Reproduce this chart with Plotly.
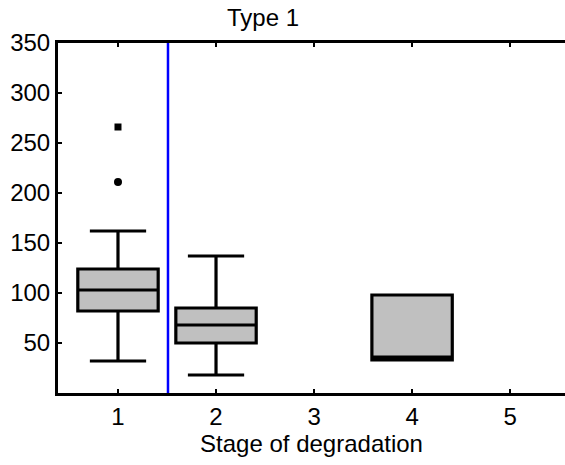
import plotly.graph_objects as go

# Data
stages = [1, 2, 4]
q1 = [82, 50, 33]
median = [103, 68, 36]
q3 = [124, 85, 98]
lower_whisker = [32, 18, 33]
upper_whisker = [162, 137, 98]

outlier_stage = [1]
outlier_value = [211]
extreme_stage = [1]
extreme_value = [266]

x_tick_vals = [1, 2, 3, 4, 5]
x_tick_text = ["1", "2", "3", "4", "5"]
y_tick_vals = [50, 100, 150, 200, 250, 300, 350]
y_tick_text = ["50", "100", "150", "200", "250", "300", "350"]

separator_x = 1.51

FONT = "Liberation Sans, Arial, sans-serif"
FS = 24

fig = go.Figure()

fig.add_trace(go.Box(
    x=stages, q1=q1, median=median, q3=q3,
    lowerfence=lower_whisker, upperfence=upper_whisker,
    width=0.82, whiskerwidth=0.7,
    fillcolor="#c0c0c0",
    line=dict(color="black", width=3.2),
    boxpoints=False, showlegend=False, hoverinfo="skip",
))

fig.add_trace(go.Scatter(
    x=outlier_stage, y=outlier_value, mode="markers",
    marker=dict(symbol="circle", size=8, color="black"),
    showlegend=False, hoverinfo="skip",
))
fig.add_trace(go.Scatter(
    x=extreme_stage, y=extreme_value, mode="markers",
    marker=dict(symbol="square", size=7, color="black"),
    showlegend=False, hoverinfo="skip",
))

fig.add_shape(type="line", xref="x", yref="paper",
              x0=separator_x, x1=separator_x, y0=0, y1=1,
              line=dict(color="#0000ff", width=2.5))

fig.update_layout(
    width=565, height=465,
    margin=dict(l=58, r=0, t=43, b=72),
    paper_bgcolor="white", plot_bgcolor="white",
    font=dict(family=FONT, size=FS, color="black"),
    title=dict(text="Type 1", x=263 / 565, xanchor="center", xref="container",
               y=1 - 18 / 465, yanchor="middle", yref="container",
               font=dict(family=FONT, size=FS, color="black")),
    showlegend=False,
)

fig.update_xaxes(
    range=[0.388, 5.56],
    tickmode="array", tickvals=x_tick_vals, ticktext=x_tick_text,
    ticks="inside", ticklen=4, tickwidth=2, tickcolor="black",
    showline=True, linewidth=3, linecolor="black", mirror="ticks",
    showgrid=False, zeroline=False,
    tickfont=dict(family=FONT, size=FS),
    title=dict(text="Stage of degradation", standoff=6,
               font=dict(family=FONT, size=FS)),
)
fig.update_yaxes(
    range=[0, 350],
    tickmode="array", tickvals=y_tick_vals, ticktext=y_tick_text,
    ticks="inside", ticklen=4, tickwidth=2, tickcolor="black",
    showline=True, linewidth=3, linecolor="black", mirror=False,
    showgrid=False, zeroline=False,
    tickfont=dict(family=FONT, size=FS),
)

fig.write_html("out.html", config={"displayModeBar": False})
